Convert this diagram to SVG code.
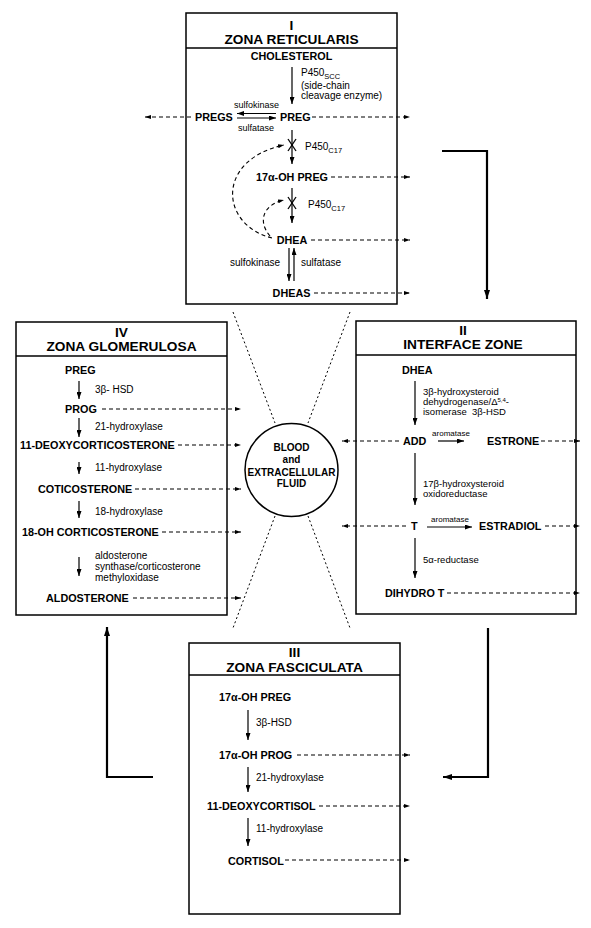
<svg xmlns="http://www.w3.org/2000/svg" width="591" height="928" viewBox="0 0 591 928">
<style>
text{font-family:"Liberation Sans",Arial,Helvetica,sans-serif;fill:#000}
.ti{font-size:13.7px;font-weight:bold;text-anchor:middle}
.n{font-size:10.8px;font-weight:bold}
.c{text-anchor:middle}
.en{text-anchor:end}
.e{font-size:10px}
.e2{font-size:9.5px}
.s{font-size:9px}
.sm{font-size:8px}
.bl{font-size:10px;font-weight:bold;text-anchor:middle}
.box{fill:#fff;stroke:#000;stroke-width:1.5}
.hl{stroke:#000;stroke-width:1.3}
.ar{stroke:#000;stroke-width:1.2;fill:none;marker-end:url(#ah)}
.da{stroke:#000;stroke-width:1.1;fill:none;stroke-dasharray:4 3;marker-end:url(#dh)}
.dt{stroke:#000;stroke-width:1;fill:none;stroke-dasharray:2 2.5}
.big{stroke:#000;stroke-width:2.2;fill:none;marker-end:url(#bh)}
.x{stroke:#000;stroke-width:1.3}
</style>
<defs>
<marker id="ah" viewBox="0 0 7 5" refX="7" refY="2.5" markerWidth="7" markerHeight="5" markerUnits="userSpaceOnUse" orient="auto" preserveAspectRatio="none"><path d="M0,0 L7,2.5 L0,5 z" fill="#000"/></marker>
<marker id="dh" viewBox="0 0 6 4" refX="6" refY="2" markerWidth="6" markerHeight="4" markerUnits="userSpaceOnUse" orient="auto" preserveAspectRatio="none"><path d="M0,0 L6,2 L0,4 z" fill="#000"/></marker>
<marker id="bh" viewBox="0 0 9 6" refX="9" refY="3" markerWidth="9" markerHeight="6" markerUnits="userSpaceOnUse" orient="auto" preserveAspectRatio="none"><path d="M0,0 L9,3 L0,6 z" fill="#000"/></marker>
</defs>
<rect width="591" height="928" fill="#fff"/>

<g id="zone-I">
<rect class="box" x="186" y="13" width="211" height="291"/>
<line class="hl" x1="186" y1="48" x2="397" y2="48"/>
<text class="ti" x="291.5" y="29.5">I</text>
<text class="ti" x="291.5" y="43.5">ZONA RETICULARIS</text>
<text class="n c" x="291.5" y="60">CHOLESTEROL</text>
<text class="e" x="301" y="76">P450<tspan font-size="7.5" dy="3">SCC</tspan></text>
<text class="e" x="301" y="88.5">(side-chain</text>
<text class="e" x="301" y="98.5">cleavage enzyme)</text>
<text class="n" x="195" y="121">PREGS</text>
<text class="n" x="280" y="121">PREG</text>
<text class="s c" x="256.5" y="108">sulfokinase</text>
<text class="s c" x="256" y="130.5">sulfatase</text>
<text class="e" x="305" y="150">P450<tspan font-size="7.5" dy="3">C17</tspan></text>
<text class="n c" x="292" y="181">17α-OH PREG</text>
<text class="e" x="308" y="208">P450<tspan font-size="7.5" dy="3">C17</tspan></text>
<text class="n c" x="292" y="244">DHEA</text>
<text class="e en" x="280" y="265.5">sulfokinase</text>
<text class="e" x="301" y="265.5">sulfatase</text>
<text class="n c" x="291.5" y="297">DHEAS</text>
</g>

<g id="zone-IV">
<rect class="box" x="16" y="322" width="211" height="293"/>
<line class="hl" x1="16" y1="356" x2="227" y2="356"/>
<text class="ti" x="121.5" y="337">IV</text>
<text class="ti" x="121.5" y="351">ZONA GLOMERULOSA</text>
<text class="n" x="65" y="374">PREG</text>
<text class="e" x="95" y="393">3β- HSD</text>
<text class="n" x="65" y="413">PROG</text>
<text class="e" x="95" y="430">21-hydroxylase</text>
<text class="n" x="20" y="449">11-DEOXYCORTICOSTERONE</text>
<text class="e" x="95" y="470.5">11-hydroxylase</text>
<text class="n" x="38" y="493">COTICOSTERONE</text>
<text class="e" x="95" y="514.5">18-hydroxylase</text>
<text class="n" x="22" y="536">18-OH CORTICOSTERONE</text>
<text class="e" x="95" y="559">aldosterone</text>
<text class="e" x="95" y="570">synthase/corticosterone</text>
<text class="e" x="95" y="580.7">methyloxidase</text>
<text class="n" x="46" y="602">ALDOSTERONE</text>
</g>

<g id="zone-II">
<rect class="box" x="356" y="321" width="220" height="293"/>
<line class="hl" x1="356" y1="355" x2="576" y2="355"/>
<text class="ti" x="463" y="335">II</text>
<text class="ti" x="463" y="349">INTERFACE ZONE</text>
<text class="n" x="402" y="374">DHEA</text>
<text class="e2" x="423" y="395">3β-hydroxysteroid</text>
<text class="e2" x="423" y="405">dehydrogenase/Δ<tspan font-size="6" dy="-3">5,4</tspan><tspan dy="3">-</tspan></text>
<text class="e2" x="423" y="415">isomerase<tspan x="472">3β-HSD</tspan></text>
<text class="n" x="403" y="445">ADD</text>
<text class="sm c" x="451" y="435.5">aromatase</text>
<text class="n" x="487" y="445">ESTRONE</text>
<text class="e2" x="423" y="486.5">17β-hydroxysteroid</text>
<text class="e2" x="423" y="496.5">oxidoreductase</text>
<text class="n" x="411" y="530">T</text>
<text class="sm c" x="450" y="521.5">aromatase</text>
<text class="n" x="479" y="530">ESTRADIOL</text>
<text class="e2" x="423" y="563">5α-reductase</text>
<text class="n" x="385" y="597">DIHYDRO T</text>
</g>

<g id="zone-III">
<rect class="box" x="189" y="643" width="211" height="271"/>
<line class="hl" x1="189" y1="675" x2="400" y2="675"/>
<text class="ti" x="294.5" y="657">III</text>
<text class="ti" x="294.5" y="672">ZONA FASCICULATA</text>
<text class="n" x="219" y="700.7">17α-OH PREG</text>
<text class="e" x="256" y="725.5">3β-HSD</text>
<text class="n" x="219" y="759">17α-OH PROG</text>
<text class="e" x="256" y="780.5">21-hydroxylase</text>
<text class="n" x="207" y="810">11-DEOXYCORTISOL</text>
<text class="e" x="256" y="832">11-hydroxylase</text>
<text class="n" x="228" y="864.5">CORTISOL</text>
</g>

<g id="blood">
<circle cx="291.5" cy="470" r="46.5" fill="#fff" stroke="#000" stroke-width="1.5"/>
<text class="bl" x="291.5" y="451">BLOOD</text>
<text class="bl" x="291.5" y="463">and</text>
<text class="bl" x="291.5" y="476">EXTRACELLULAR</text>
<text class="bl" x="291.5" y="487">FLUID</text>
</g>

<g id="connectors">
<line class="ar" x1="292" y1="67" x2="292" y2="104"/>
<line class="ar" x1="276" y1="113.5" x2="237" y2="113.5"/>
<line class="ar" x1="237" y1="118" x2="276" y2="118"/>
<line class="ar" x1="292" y1="130" x2="292" y2="164"/>
<line class="x" x1="288" y1="139" x2="296" y2="151"/>
<line class="x" x1="296" y1="139" x2="288" y2="151"/>
<line class="ar" x1="292" y1="188" x2="292" y2="223"/>
<line class="x" x1="288" y1="197" x2="296" y2="209"/>
<line class="x" x1="296" y1="197" x2="288" y2="209"/>
<line class="ar" x1="289" y1="248" x2="289" y2="281"/>
<line class="ar" x1="294" y1="281" x2="294" y2="248"/>
<path class="da" d="M272 238 C220 225 215 160 284 145"/>
<path class="da" d="M270 236 C258 222 262 205 284 200"/>
<line class="da" x1="191" y1="117" x2="145" y2="117"/>
<line class="da" x1="312" y1="117" x2="410" y2="117"/>
<line class="da" x1="331" y1="177" x2="410" y2="177"/>
<line class="da" x1="311" y1="240" x2="410" y2="240"/>
<line class="da" x1="314" y1="293" x2="410" y2="293"/>
<line class="ar" x1="79" y1="381" x2="79" y2="399"/>
<line class="ar" x1="79" y1="418" x2="79" y2="437"/>
<line class="ar" x1="79" y1="462" x2="79" y2="474"/>
<line class="ar" x1="79" y1="501" x2="79" y2="518"/>
<line class="ar" x1="79" y1="557" x2="79" y2="576"/>
<line class="da" x1="102" y1="409" x2="241" y2="409"/>
<line class="da" x1="178" y1="445" x2="241" y2="445"/>
<line class="da" x1="135" y1="489" x2="241" y2="489"/>
<line class="da" x1="162" y1="532" x2="241" y2="532"/>
<line class="da" x1="133" y1="598" x2="241" y2="598"/>
<line class="ar" x1="415" y1="381" x2="415" y2="425"/>
<line class="ar" x1="438" y1="441" x2="464" y2="441"/>
<line class="ar" x1="415" y1="453" x2="415" y2="505"/>
<line class="ar" x1="427" y1="527" x2="472" y2="527"/>
<line class="ar" x1="415" y1="538" x2="415" y2="578"/>
<line class="da" x1="399" y1="441" x2="342" y2="441"/>
<line class="da" x1="541" y1="441" x2="580" y2="441"/>
<line class="da" x1="406" y1="526" x2="342" y2="526"/>
<line class="da" x1="545" y1="526" x2="580" y2="526"/>
<line class="da" x1="447" y1="593" x2="580" y2="593"/>
<line class="ar" x1="248" y1="710" x2="248" y2="740"/>
<line class="ar" x1="248" y1="767" x2="248" y2="792"/>
<line class="ar" x1="248" y1="818" x2="248" y2="846"/>
<line class="da" x1="297" y1="755" x2="410" y2="755"/>
<line class="da" x1="319" y1="806" x2="410" y2="806"/>
<line class="da" x1="285" y1="860" x2="410" y2="860"/>
<line class="dt" x1="233" y1="312" x2="275" y2="423"/>
<line class="dt" x1="350" y1="312" x2="308" y2="423"/>
<line class="dt" x1="275" y1="516" x2="233" y2="628"/>
<line class="dt" x1="308" y1="516" x2="350" y2="628"/>
<polyline class="big" points="442,151 487,151 487,299"/>
<polyline class="big" points="488,628 488,777 443,777"/>
<polyline class="big" points="153,777 107,777 107,627"/>
</g>
</svg>
